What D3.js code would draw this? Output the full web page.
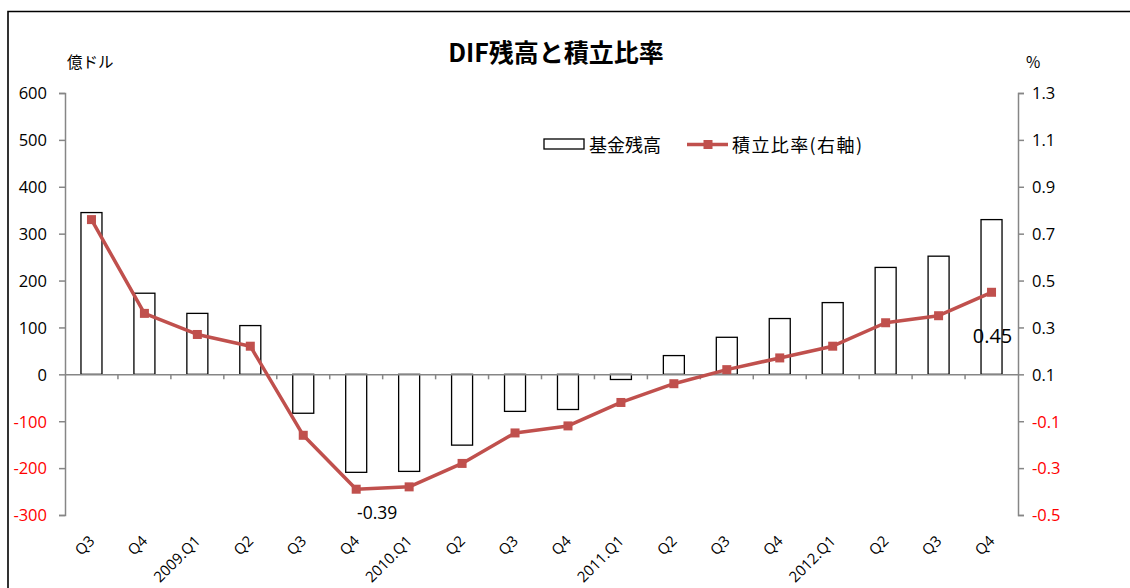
<!DOCTYPE html>
<html><head><meta charset="utf-8">
<script src="https://cdn.jsdelivr.net/npm/d3@7"></script>
<style>
body{margin:0;background:#fff;}
text{font-family:"Open Sans","Noto Sans","Noto Sans CJK JP",sans-serif;}
</style>
</head><body>
<svg id="c" width="1130" height="588"></svg>
<script>
const categories = ["Q3","Q4","2009.Q1","Q2","Q3","Q4","2010.Q1","Q2","Q3","Q4","2011.Q1","Q2","Q3","Q4","2012.Q1","Q2","Q3","Q4"];
const fundBalance = [345,173,130,104,-83,-209,-207,-151,-79,-75,-11,40,79,119,153,228,252,330];
const reserveRatio = [0.76,0.36,0.27,0.22,-0.16,-0.39,-0.38,-0.28,-0.15,-0.12,-0.02,0.06,0.12,0.17,0.22,0.32,0.35,0.45];
const leftTicks = [600,500,400,300,200,100,0,-100,-200,-300];
const rightTicks = [1.3,1.1,0.9,0.7,0.5,0.3,0.1,-0.1,-0.3,-0.5];

const svg = d3.select("#c");
const L = 65, R = 1018, T = 93, B = 515;
const red = "#c0504d", axisCol = "#868686";
const cjk = '"Noto Sans CJK JP",sans-serif';
const hy = s => s.replace("\u2212","-");
const f1 = d => hy(d3.format(".1f")(d));
const f2 = d => hy(d3.format(".2f")(d));

// border
svg.append("path").attr("d","M8,588 L8,11.5 L1130,11.5").attr("fill","none").attr("stroke","#000").attr("stroke-width",1.6);

const xb = d3.scaleBand().domain(d3.range(categories.length)).range([L,R]);
const cx = i => xb(i) + xb.bandwidth()/2;
const yL = d3.scaleLinear().domain([-300,600]).range([B,T]);
const yR = d3.scaleLinear().domain([-0.5,1.3]).range([B,T]);

// bars
svg.append("g").selectAll("rect").data(fundBalance).join("rect")
  .attr("x",(d,i)=>cx(i)-10.5)
  .attr("width",21)
  .attr("y",d=>yL(Math.max(0,d)))
  .attr("height",d=>Math.abs(yL(d)-yL(0)))
  .attr("fill","#fff").attr("stroke","#000").attr("stroke-width",1.3);

// left axis
const ga = svg.append("g").attr("transform",`translate(${L},0)`)
  .call(d3.axisLeft(yL).tickValues(leftTicks).tickSize(6).tickPadding(12).tickFormat(d=>String(d)));
ga.select(".domain").attr("stroke",axisCol).attr("stroke-width",1.5);
ga.selectAll(".tick line").attr("stroke",axisCol).attr("stroke-width",1.5);
ga.selectAll(".tick text").attr("font-size",16.5).attr("fill",d=>d<0?"#ff0000":"#000").attr("dy","0.35em");

// right axis
const gr = svg.append("g").attr("transform",`translate(${R},0)`)
  .call(d3.axisRight(yR).tickValues(rightTicks).tickSize(6).tickPadding(8).tickFormat(f1));
gr.select(".domain").attr("stroke",axisCol).attr("stroke-width",1.5);
gr.selectAll(".tick line").attr("stroke",axisCol).attr("stroke-width",1.5);
gr.selectAll(".tick text").attr("font-size",16.5).attr("fill",d=>d<0?"#ff0000":"#000").attr("dy","0.35em");

// zero-line category axis
const gx = svg.append("g").attr("transform",`translate(0,${yL(0)})`)
  .call(d3.axisBottom(xb).tickSize(0).tickFormat(""));
gx.select(".domain").attr("stroke",axisCol).attr("stroke-width",1.5);
svg.append("g").selectAll("line").data(d3.range(1,categories.length)).join("line")
  .attr("x1",i=>xb(i)).attr("x2",i=>xb(i))
  .attr("y1",yL(0)).attr("y2",yL(0)+5)
  .attr("stroke",axisCol).attr("stroke-width",1.5);

// category labels rotated
svg.append("g").selectAll("text").data(categories).join("text")
  .attr("transform",(d,i)=>`translate(${cx(i)+4},${B+27}) rotate(-45)`)
  .attr("text-anchor","end").attr("font-size",15).attr("fill","#000").text(d=>d);

// line
const line = d3.line().x((d,i)=>cx(i)).y(d=>yR(d));
svg.append("path").datum(reserveRatio).attr("d",line)
  .attr("fill","none").attr("stroke",red).attr("stroke-width",3.5).attr("stroke-linejoin","round");
svg.append("g").selectAll("rect").data(reserveRatio).join("rect")
  .attr("x",(d,i)=>cx(i)-4.5).attr("y",d=>yR(d)-4.5)
  .attr("width",9).attr("height",9).attr("fill",red);

// data labels
svg.append("text").attr("x",cx(5)+21).attr("y",yR(reserveRatio[5])+30)
  .attr("text-anchor","middle").attr("font-size",17.5).text(f2(reserveRatio[5]));
svg.append("text").attr("x",cx(17)+1).attr("y",yR(reserveRatio[17])+51)
  .attr("text-anchor","middle").attr("font-size",20).text(f2(reserveRatio[17]));

// title & units
svg.append("text").attr("x",556).attr("y",62).attr("text-anchor","middle")
  .attr("font-size",25).attr("font-weight","bold").style("font-family",cjk).text("DIF残高と積立比率");
svg.append("text").attr("x",67).attr("y",68).attr("font-size",15.5).style("font-family",cjk).text("億ドル");
svg.append("text").attr("x",1026).attr("y",68).attr("font-size",15.5).style("font-family",cjk).text("%");

// legend
svg.append("rect").attr("x",544).attr("y",139).attr("width",40).attr("height",10)
  .attr("fill","#fff").attr("stroke","#000").attr("stroke-width",1.3);
svg.append("text").attr("x",589).attr("y",151.5).attr("font-size",18).style("font-family",cjk).text("基金残高");
svg.append("line").attr("x1",687).attr("x2",728).attr("y1",144.5).attr("y2",144.5).attr("stroke",red).attr("stroke-width",3.5);
svg.append("rect").attr("x",703.5).attr("y",140).attr("width",9).attr("height",9).attr("fill",red);
svg.append("text").attr("x",732).attr("y",151.5).attr("font-size",18).attr("textLength",130).attr("lengthAdjust","spacing")
  .style("font-family",cjk).text("積立比率(右軸)");
</script>
</body></html>
